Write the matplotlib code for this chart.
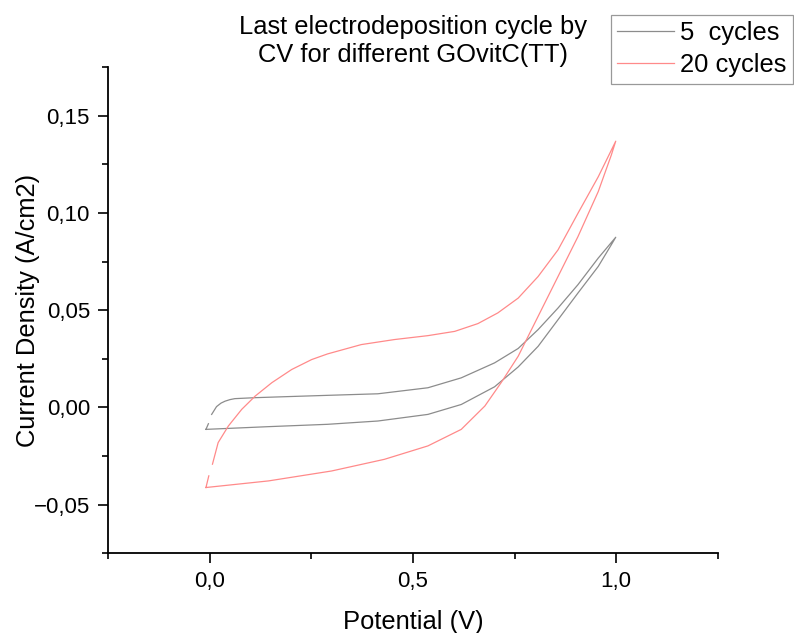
import numpy as np
import matplotlib
matplotlib.use("Agg")
import matplotlib.pyplot as plt
from matplotlib.ticker import MultipleLocator, FuncFormatter

plt.rcParams['font.family'] = ['Liberation Sans', 'DejaVu Sans']

# 5 cycles: forward branch then reverse branch (V, A/cm2)
v_5 = [-0.009, -0.003, np.nan, 0.005, 0.017, 0.028, 0.038, 0.05, 0.062, 0.112, 0.185, 0.29, 0.414,
       0.537, 0.619, 0.701, 0.759, 0.808, 0.857, 0.906, 0.956, 0.999,
       0.988, 0.956, 0.906, 0.857, 0.808, 0.759, 0.701, 0.619, 0.537, 0.414, 0.29, 0.145, -0.009]
i_5 = [-0.0113, -0.0084, np.nan, -0.0036, 0.0004, 0.0022, 0.0032, 0.004, 0.0045, 0.005, 0.0055, 0.0062, 0.007,
       0.0101, 0.0152, 0.0229, 0.0303, 0.040, 0.0511, 0.0631, 0.0768, 0.0875,
       0.0836, 0.0725, 0.0588, 0.0451, 0.0314, 0.0208, 0.0106, 0.0015, -0.0036, -0.007, -0.0087, -0.0099, -0.0113]

# 20 cycles
v_20 = [-0.009, -0.002, np.nan, 0.007, 0.021, 0.046, 0.079, 0.112, 0.153, 0.202, 0.251, 0.29,
        0.373, 0.455, 0.537, 0.603, 0.66, 0.709, 0.759, 0.808, 0.857, 0.906, 0.956, 0.999,
        0.988, 0.956, 0.906, 0.857, 0.808, 0.759, 0.717, 0.677, 0.619, 0.537, 0.43, 0.30, 0.145, -0.009]
i_20 = [-0.0412, -0.0352, np.nan, -0.0292, -0.0181, -0.0096, -0.001, 0.0058, 0.0127, 0.0195, 0.0246, 0.0275,
        0.0323, 0.0349, 0.0369, 0.0391, 0.0431, 0.0486, 0.0562, 0.0673, 0.081, 0.0998, 0.1186, 0.1369,
        0.1297, 0.111, 0.0878, 0.0673, 0.0468, 0.0263, 0.0127, 0.0007, -0.0113, -0.0198, -0.0267, -0.0327, -0.0378, -0.0412]

labels = ["5  cycles", "20 cycles"]

fig = plt.figure(figsize=(7.94, 6.33), dpi=100)
ax = fig.add_axes([0.136, 0.126, 0.768, 0.768])

ax.plot(v_5, i_5, color='#8c8c8c', lw=0.9, label=labels[0])
ax.plot(v_20, i_20, color='#ff8a8a', lw=0.9, label=labels[1])

ax.set_xlim(-0.25, 1.25)
ax.set_ylim(-0.075, 0.175)

ax.xaxis.set_major_locator(MultipleLocator(0.5))
ax.xaxis.set_minor_locator(MultipleLocator(0.25))
ax.yaxis.set_major_locator(MultipleLocator(0.05))
ax.yaxis.set_minor_locator(MultipleLocator(0.025))

ax.xaxis.set_major_formatter(FuncFormatter(lambda x, p: f"{x:.1f}".replace('.', ',')))
ax.yaxis.set_major_formatter(FuncFormatter(
    lambda y, p: f"{y:.2f}".replace('.', ',').replace('-', '\u2212')))

ax.spines['top'].set_visible(False)
ax.spines['right'].set_visible(False)
for s in ['left', 'bottom']:
    ax.spines[s].set_linewidth(1.3)

ax.tick_params(which='major', direction='out', length=7, width=1.2, labelsize=16, pad=6)
ax.tick_params(which='minor', direction='out', length=4, width=1.2)

ax.set_xlabel("Potential (V)", fontsize=18.4, labelpad=13)
ax.set_ylabel("Current Density (A/cm2)", fontsize=18.4)
ax.yaxis.set_label_coords(-0.112, 0.5)
ax.set_title("Last electrodeposition cycle by\nCV for different GOvitC(TT)", fontsize=18.4, pad=2,
             linespacing=1.2)

leg = ax.legend(loc='upper right', bbox_to_anchor=(0.999, 0.977), bbox_transform=fig.transFigure,
                fontsize=18.4, fancybox=False, edgecolor='#999999', framealpha=1,
                handlelength=2.2, handletextpad=0.27, borderpad=0.25, labelspacing=0.32,
                borderaxespad=0)
leg.get_frame().set_linewidth(0.9)

plt.savefig("out.png", dpi=100)
